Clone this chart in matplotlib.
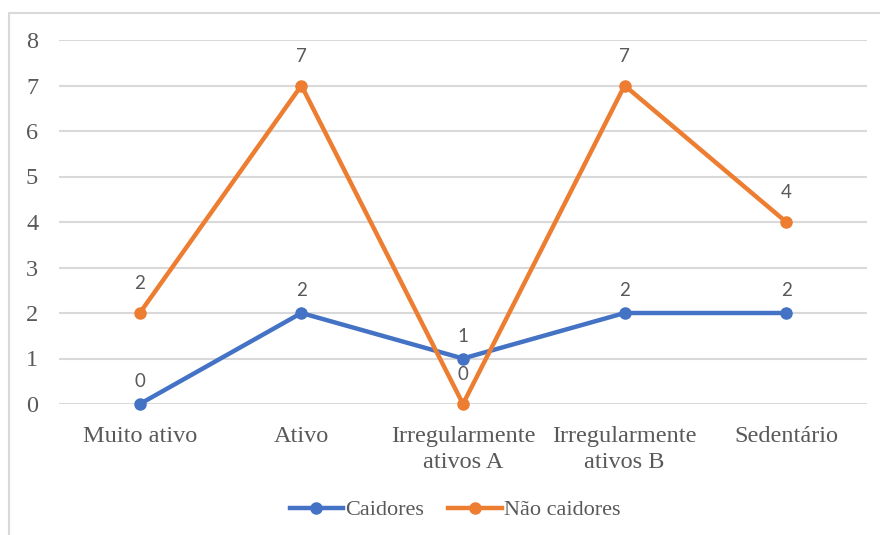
import matplotlib.pyplot as plt
from matplotlib.patches import Rectangle

# data
categories = ["Muito ativo", "Ativo", "Irregularmente\nativos A", "Irregularmente\nativos B", "Sedentário"]
caidores = [0, 2, 1, 2, 2]
nao_caidores = [2, 7, 0, 7, 4]
yticks = [0, 1, 2, 3, 4, 5, 6, 7, 8]

blue = "#4472C4"
orange = "#ED7D31"
text_gray = "#595959"
grid_gray = "#D9D9D9"

fig = plt.figure(figsize=(8.8, 5.35), dpi=100)
ax = fig.add_axes([59 / 880, 1 - 404 / 535, 808 / 880, 364 / 535])

# outer chart frame (cut off on the right and bottom in the reference)
fig.patches.append(Rectangle((9 / 880, -0.1), 1.2, 1 - 13 / 535 + 0.1,
                             transform=fig.transFigure, fill=False,
                             edgecolor=grid_gray, linewidth=1.5))

x = list(range(len(categories)))
ax.plot(x, caidores, color=blue, linewidth=3.2, marker="o", markersize=8,
        label="Caidores", clip_on=False, zorder=3)
ax.plot(x, nao_caidores, color=orange, linewidth=3.2, marker="o", markersize=8,
        label="Não caidores", clip_on=False, zorder=3)

# data labels above points
for xi, v in zip(x, caidores):
    ax.annotate(str(v), (xi, v), xytext=(0, 16), textcoords="offset points",
                ha="center", va="center", fontsize=13.5, color=text_gray,
                family=["Lato", "DejaVu Sans"])
for xi, v in zip(x, nao_caidores):
    ax.annotate(str(v), (xi, v), xytext=(0, 21), textcoords="offset points",
                ha="center", va="center", fontsize=13.5, color=text_gray,
                family=["Lato", "DejaVu Sans"])

ax.set_xlim(-0.5, len(categories) - 0.5)
ax.set_ylim(0, 8)
ax.set_yticks(yticks)
ax.set_xticks(x)
ax.set_xticklabels(categories, family="Liberation Serif", fontsize=17.5,
                   color=text_gray, linespacing=1.3)
ax.set_yticklabels([str(t) for t in yticks], family="Liberation Serif",
                   fontsize=17.5, color=text_gray)
ax.tick_params(axis="both", length=0)
ax.tick_params(axis="y", pad=15)
ax.tick_params(axis="x", pad=16)

ax.grid(axis="y", color=grid_gray, linewidth=1.5)
ax.set_axisbelow(True)
for s in ax.spines.values():
    s.set_visible(False)

leg = fig.legend(loc="center", bbox_to_anchor=(455 / 880, 1 - 510 / 535), ncol=2,
                 frameon=False, handlelength=2.4, handletextpad=0.1,
                 columnspacing=1.1,
                 prop={"family": "Liberation Serif", "size": 16})
for t in leg.get_texts():
    t.set_color(text_gray)

fig.savefig("out.png", dpi=100)
